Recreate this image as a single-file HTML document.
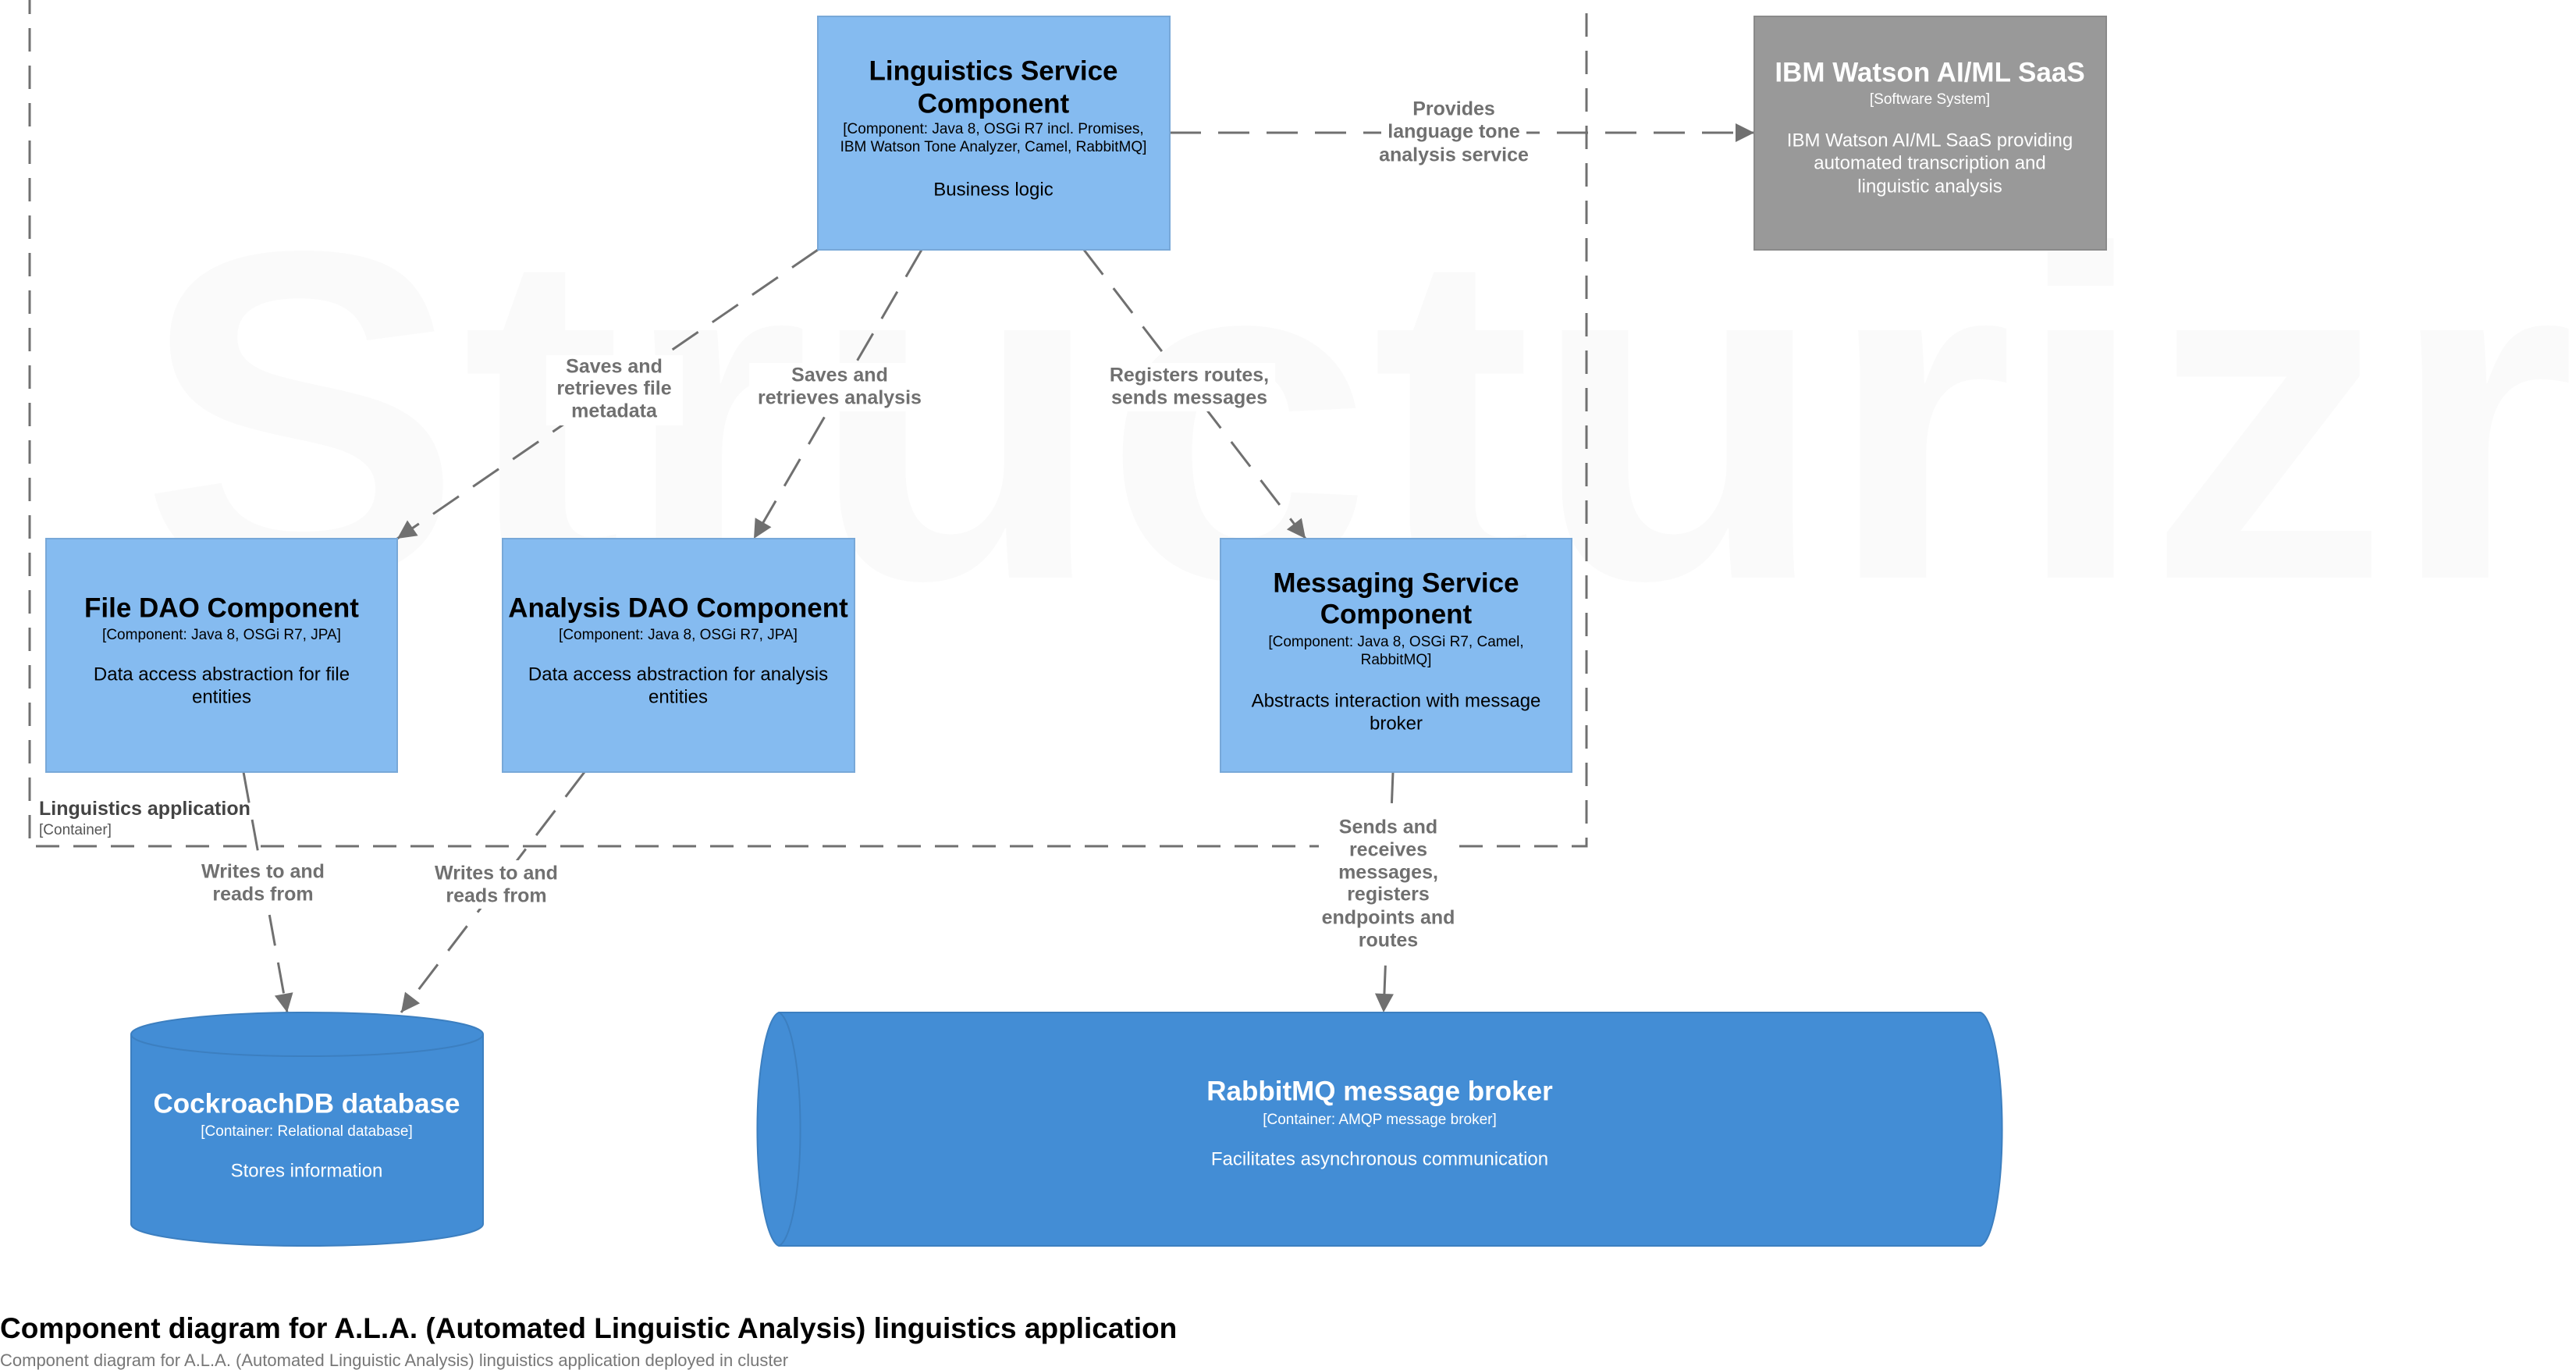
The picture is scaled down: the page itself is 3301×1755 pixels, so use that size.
<!DOCTYPE html>
<html><head><meta charset="utf-8"><style>
html,body{margin:0;padding:0;background:#fff;width:3301px;height:1755px;overflow:hidden}
svg text{font-family:"Liberation Sans",sans-serif}
</style></head><body>
<svg width="3301" height="1755" viewBox="0 0 3301 1755" xmlns="http://www.w3.org/2000/svg">
<defs>
<marker id="ah" viewBox="0 0 10 10" refX="10" refY="5" markerWidth="26" markerHeight="24" markerUnits="userSpaceOnUse" orient="auto">
<path d="M0,0 L10,5 L0,10 z" fill="#707070"/>
</marker>
</defs>
<text x="180" y="740" font-size="600" font-weight="bold" fill="#fafafa" textLength="3121" lengthAdjust="spacingAndGlyphs">Structurizr</text>

<rect x="38" y="-4" width="1995" height="1088" fill="none" stroke="#707070" stroke-width="3" stroke-dasharray="30,18"/>
<text x="50" y="1044" font-size="25" font-weight="bold" fill="#444">Linguistics application</text>
<text x="50" y="1069" font-size="19" fill="#555">[Container]</text>

<g stroke="#707070" stroke-width="3" stroke-dasharray="40,22" fill="none" marker-end="url(#ah)">
<line x1="1499" y1="170" x2="2248" y2="170"/>
<line x1="1048" y1="320" x2="509" y2="690"/>
<line x1="1181" y1="320" x2="966" y2="690"/>
<line x1="1389" y1="320" x2="1673" y2="690"/>
<line x1="312" y1="989" x2="368" y2="1297"/>
<line x1="749" y1="989" x2="514" y2="1297"/>
<line x1="1785" y1="989" x2="1773" y2="1297"/>
</g>
<g fill="#fff">
<rect x="1770" y="125" width="186" height="92"/>
<rect x="700" y="455" width="175" height="90"/>
<rect x="960" y="465" width="232" height="62"/>
<rect x="1414" y="465" width="220" height="62"/>
<rect x="250" y="1100" width="175" height="62"/>
<rect x="550" y="1102" width="175" height="62"/>
<rect x="1690" y="1045" width="180" height="178"/>
</g>
<g font-size="25" font-weight="bold" fill="#707070" text-anchor="middle" dominant-baseline="middle">
<text x="1863" y="141">Provides</text><text x="1863" y="170">language tone</text><text x="1863" y="200">analysis service</text>
<text x="787" y="471">Saves and</text><text x="787" y="499">retrieves file</text><text x="787" y="528">metadata</text>
<text x="1076" y="482">Saves and</text><text x="1076" y="511">retrieves analysis</text>
<text x="1524" y="482">Registers routes,</text><text x="1524" y="511">sends messages</text>
<text x="337" y="1118">Writes to and</text><text x="337" y="1147">reads from</text>
<text x="636" y="1120">Writes to and</text><text x="636" y="1149">reads from</text>
<text x="1779" y="1061">Sends and</text><text x="1779" y="1090">receives</text><text x="1779" y="1119">messages,</text><text x="1779" y="1147">registers</text><text x="1779" y="1177">endpoints and</text><text x="1779" y="1206">routes</text>
</g>

<g fill="#85bbf0" stroke="#78a8d8" stroke-width="2">
<rect x="1048" y="21" width="451" height="299"/>
<rect x="59" y="690" width="450" height="299"/>
<rect x="644" y="690" width="451" height="299"/>
<rect x="1564" y="690" width="450" height="299"/>
</g>
<rect x="2248" y="21" width="451" height="299" fill="#999999" stroke="#8a8a8a" stroke-width="2"/>

<g text-anchor="middle" dominant-baseline="middle" fill="#000">
<text x="1273" y="93" font-size="35" font-weight="bold">Linguistics Service</text>
<text x="1273" y="135" font-size="35" font-weight="bold">Component</text>
<text x="1273" y="166" font-size="19">[Component: Java 8, OSGi R7 incl. Promises,</text>
<text x="1273" y="189" font-size="19">IBM Watson Tone Analyzer, Camel, RabbitMQ]</text>
<text x="1273" y="244" font-size="24">Business logic</text>

<text x="284" y="781" font-size="35" font-weight="bold">File DAO Component</text>
<text x="284" y="814" font-size="19">[Component: Java 8, OSGi R7, JPA]</text>
<text x="284" y="865" font-size="24">Data access abstraction for file</text>
<text x="284" y="894" font-size="24">entities</text>

<text x="869" y="781" font-size="35" font-weight="bold">Analysis DAO Component</text>
<text x="869" y="814" font-size="19">[Component: Java 8, OSGi R7, JPA]</text>
<text x="869" y="865" font-size="24">Data access abstraction for analysis</text>
<text x="869" y="894" font-size="24">entities</text>

<text x="1789" y="749" font-size="35" font-weight="bold">Messaging Service</text>
<text x="1789" y="789" font-size="35" font-weight="bold">Component</text>
<text x="1789" y="823" font-size="19">[Component: Java 8, OSGi R7, Camel,</text>
<text x="1789" y="846" font-size="19">RabbitMQ]</text>
<text x="1789" y="899" font-size="24">Abstracts interaction with message</text>
<text x="1789" y="928" font-size="24">broker</text>
</g>
<g text-anchor="middle" dominant-baseline="middle" fill="#fff">
<text x="2473" y="95" font-size="35" font-weight="bold">IBM Watson AI/ML SaaS</text>
<text x="2473" y="128" font-size="19">[Software System]</text>
<text x="2473" y="181" font-size="24">IBM Watson AI/ML SaaS providing</text>
<text x="2473" y="210" font-size="24">automated transcription and</text>
<text x="2473" y="240" font-size="24">linguistic analysis</text>
</g>

<path d="M168,1325 A225,28 0 0 1 619,1325 L619,1568 A225,28 0 0 1 168,1568 Z" fill="#438dd5" stroke="#3c7fc0" stroke-width="2"/>
<path d="M168,1325 A225,28 0 0 0 619,1325" fill="none" stroke="#3c7fc0" stroke-width="2"/>
<path d="M998,1297 L2538,1297 A30,150 0 0 1 2538,1596 L998,1596 A30,150 0 0 1 998,1297 Z" fill="#438dd5" stroke="#3c7fc0" stroke-width="2"/>
<path d="M998,1297 A30,150 0 0 1 998,1596" fill="none" stroke="#3c7fc0" stroke-width="2"/>

<g text-anchor="middle" dominant-baseline="middle" fill="#fff">
<text x="393" y="1416" font-size="35" font-weight="bold">CockroachDB database</text>
<text x="393" y="1450" font-size="19">[Container: Relational database]</text>
<text x="393" y="1501" font-size="24">Stores information</text>
<text x="1768" y="1400" font-size="35" font-weight="bold">RabbitMQ message broker</text>
<text x="1768" y="1435" font-size="19">[Container: AMQP message broker]</text>
<text x="1768" y="1486" font-size="24">Facilitates asynchronous communication</text>
</g>

<text x="0" y="1714" font-size="37" font-weight="bold" fill="#000">Component diagram for A.L.A. (Automated Linguistic Analysis) linguistics application</text>
<text x="0" y="1750" font-size="22" fill="#777">Component diagram for A.L.A. (Automated Linguistic Analysis) linguistics application deployed in cluster</text>
</svg>
</body></html>
